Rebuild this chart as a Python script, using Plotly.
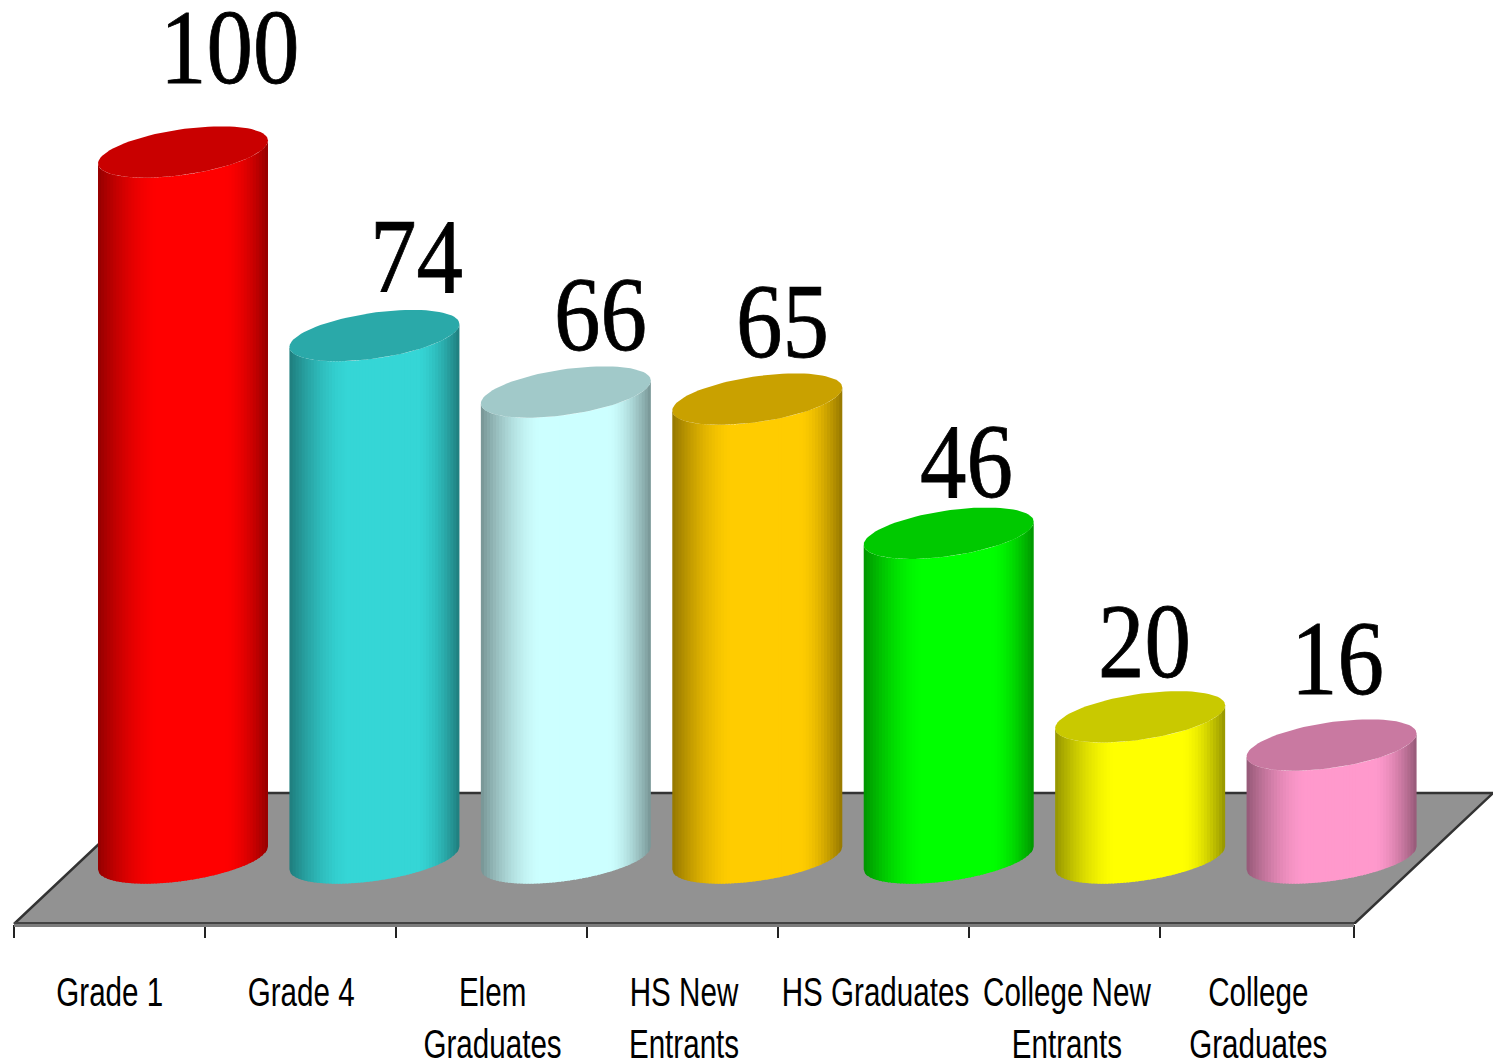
import numpy as np
import plotly.graph_objects as go

# Enrolment cohort survival, per 100 pupils entering Grade 1
categories = ["Grade 1", "Grade 4", "Elem<br>Graduates", "HS New<br>Entrants",
              "HS Graduates", "College New<br>Entrants", "College<br>Graduates"]
values = [100, 74, 66, 65, 46, 20, 16]
body_colors = [(255, 0, 0), (53, 214, 214), (204, 255, 255), (255, 204, 0),
               (0, 255, 0), (255, 255, 0), (255, 153, 204)]

# Hand-placed offsets of the value labels from each cylinder's top, in pixels
label_nudge = [(47, 105), (42, 79), (35, 78), (25, 78), (18, 72), (4, 75), (6, 87)]

# Scale of the plot area
PX_PER_CAT = 191.43
PX_PER_VAL = 7.06
PLOT_HEIGHT = 924
X_RANGE = [-14 / PX_PER_CAT, 1479 / PX_PER_CAT]
Y_RANGE = [-66 / PX_PER_VAL, 858 / PX_PER_VAL]

# Pseudo-3D projection, in data units
DEPTH_X = 139 / PX_PER_CAT
DEPTH_Y = 9.2
BAR_SHIFT = 169 / PX_PER_CAT
HALF_W = 85 / PX_PER_CAT
ELL_H = 23 / PX_PER_VAL
ELL_TILT = 11.5 / PX_PER_VAL
N_STRIPS = 56


def shade(u):
    """Lighting across a cylinder: dark at the rim, full colour in the middle."""
    start = 0.5 if u > 0 else 0.3
    edge = np.clip((abs(u) - start) / (1 - start), 0, 1)
    return 1 - 0.42 * edge ** 1.6


def rgb(c, k):
    return "rgb(%d,%d,%d)" % tuple(round(v * k) for v in c)


def lower_edge(u, level):
    return level + ELL_TILT * u - ELL_H * np.sqrt(np.clip(1 - u * u, 0, 1))


fig = go.Figure()

# Floor of the chart with its dark outline
floor_x = [0, 7, 7 + DEPTH_X, DEPTH_X]
floor_y = [Y_RANGE[0], Y_RANGE[0], DEPTH_Y, DEPTH_Y]
fig.add_trace(go.Scatter(x=floor_x + floor_x[:1], y=floor_y + floor_y[:1], mode="lines",
                         fill="toself", fillcolor="#929292", line=dict(width=0),
                         hoverinfo="skip", showlegend=False))
fig.add_trace(go.Scatter(x=[0, DEPTH_X, 7 + DEPTH_X, 7], y=[Y_RANGE[0], DEPTH_Y, DEPTH_Y, Y_RANGE[0]],
                         mode="lines", line=dict(color="#333333", width=2.5),
                         hoverinfo="skip", showlegend=False))

# Front lip of the floor, which sits just over the bottom of the plot area
fig.add_shape(type="rect", xref="x", yref="paper", x0=0, x1=7,
              y0=-3 / PLOT_HEIGHT, y1=1 / PLOT_HEIGHT,
              fillcolor="#7c7c7c", line=dict(width=0))
fig.add_shape(type="rect", xref="x", yref="paper", x0=0, x1=7,
              y0=0, y1=2 / PLOT_HEIGHT,
              fillcolor="#444444", line=dict(width=0))

# Cylinders: vertical strips for the shaded body, then the lid
edges = np.linspace(-1, 1, N_STRIPS + 1)
for i, (val, col) in enumerate(zip(values, body_colors)):
    cx = i + BAR_SHIFT
    for a, b in zip(edges[:-1], edges[1:]):
        us = np.linspace(a, min(b + 0.012, 1), 4)
        xs = cx + HALF_W * us
        bottom = [lower_edge(u, 0) for u in us]
        top = [lower_edge(u, val) for u in us]
        fig.add_trace(go.Scatter(
            x=list(xs) + list(xs[::-1]) + [xs[0]],
            y=bottom + top[::-1] + [bottom[0]],
            mode="lines", fill="toself", fillcolor=rgb(col, shade((a + b) / 2)),
            line=dict(width=0), hoverinfo="skip", showlegend=False))
    t = np.linspace(0, 2 * np.pi, 90)
    fig.add_trace(go.Scatter(
        x=cx + HALF_W * np.cos(t),
        y=val + ELL_H * np.sin(t) + ELL_TILT * np.cos(t),
        mode="lines", fill="toself", fillcolor=rgb(col, 0.79),
        line=dict(width=0), name=categories[i].replace("<br>", " "),
        hoverinfo="skip", showlegend=False))

# Value labels above the cylinders
for i, (val, (dx, dy)) in enumerate(zip(values, label_nudge)):
    fig.add_annotation(x=i + BAR_SHIFT, y=val, text=str(val), showarrow=False,
                       xshift=dx, yshift=dy, xanchor="center", yanchor="middle",
                       font=dict(family="Liberation Serif", size=105, color="black"))

fig.update_layout(
    width=1493, height=1060,
    margin=dict(l=0, r=0, t=0, b=1060 - PLOT_HEIGHT, autoexpand=False),
    paper_bgcolor="white", plot_bgcolor="white", showlegend=False,
    xaxis=dict(range=X_RANGE, showgrid=False, zeroline=False, showline=False,
               tickmode="array", tickvals=[i + 0.5 for i in range(7)], ticktext=categories,
               ticks="", ticklabelstandoff=41, tickangle=0,
               tickfont=dict(family="Liberation Sans", size=40, color="black"),
               minor=dict(tickmode="array",
                          tickvals=[i * 191 / PX_PER_CAT for i in range(7)] + [7],
                          ticks="outside", ticklen=13, tickwidth=2,
                          tickcolor="#222222", showgrid=False)),
    yaxis=dict(range=Y_RANGE, visible=False),
)

# Condense the lettering horizontally around each text's own centre
condense_text = """
var gd = document.getElementById('{plot_id}');
function squeeze(selector, sx) {
  gd.querySelectorAll(selector).forEach(function (el) {
    var box = el.getBBox();
    var cx = box.x + box.width / 2;
    var prior = el.getAttribute('transform') || '';
    el.setAttribute('transform', prior + ' translate(' + cx + ',0) scale(' + sx + ',1) translate(' + (-cx) + ',0)');
  });
}
squeeze('.xtick text', 0.74);
squeeze('.annotation-text', 0.885);
gd.querySelectorAll('.annotation-text').forEach(function (el) {
  el.style.stroke = 'black';
  el.style.strokeWidth = '0.8px';
});
"""

fig.write_html("out.html", post_script=condense_text)
